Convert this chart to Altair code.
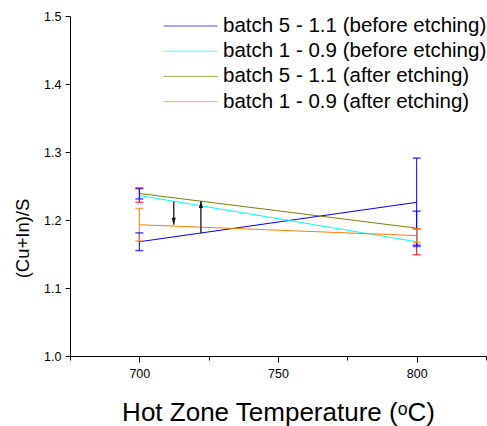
import altair as alt
import pandas as pd

# ---- data ----
series = [
    "batch 5 - 1.1 (before etching)",
    "batch 1 - 0.9 (before etching)",
    "batch 5 - 1.1 (after etching)",
    "batch 1 - 0.9 (after etching)",
]
line_colors = ["#0000FF", "#00FFFF", "#808000", "#FF8000"]
err_colors = ["#0000FF", "#FF0000", "#0000FF", "#FF8000"]

temps = [700, 800]
b5_before = [1.168, 1.226]
b1_before = [1.236, 1.168]
b5_after = [1.239, 1.188]
b1_after = [1.193, 1.177]

b5_before_err = [0.013, 0.065]
b1_before_err = [0.010, 0.019]
b5_after_err = [0.008, 0.025]
b1_after_err = [0.024, 0.010]

# annotation arrows (x in data units, from / to in y units)
arrow_x = [712.4, 722.2]
arrow_from = [1.227, 1.180]
arrow_to = [1.193, 1.228]

x_ticks = [675, 700, 725, 750, 775, 800, 825]
y_ticks = [1.0, 1.05, 1.1, 1.15, 1.2, 1.25, 1.3, 1.35, 1.4, 1.45, 1.5]

# ---- tables ----
vals = [b5_before, b1_before, b5_after, b1_after]
errs = [b5_before_err, b1_before_err, b5_after_err, b1_after_err]
rows = []
for i, s in enumerate(series):
    for j, t in enumerate(temps):
        rows.append({
            "series": s, "order": i, "temp": t, "val": vals[i][j],
            "lo": vals[i][j] - errs[i][j], "hi": vals[i][j] + errs[i][j],
            "ecolor": err_colors[i],
        })
df = pd.DataFrame(rows)
arr = pd.DataFrame({"x": arrow_x, "y0": arrow_from, "y1": arrow_to})
arr_down = arr[arr.y1 < arr.y0]
arr_up = arr[arr.y1 > arr.y0]

FONT = "Liberation Sans"

xscale = alt.Scale(domain=[675, 825], nice=False, zero=False)
yscale = alt.Scale(domain=[1.0, 1.5], nice=False, zero=False)

xaxis = alt.Axis(
    values=x_ticks,
    labelExpr="datum.value % 50 == 0 ? datum.label : ''",
    format="d",
    tickSize={"condition": {"test": "datum.value % 50 == 0", "value": 6}, "value": 4},
    title="Hot Zone Temperature (ᵒC)",
    titleFontSize=26, titleFontWeight="normal", titleFont=FONT, titleColor="black",
    titleBaseline="alphabetic", titleY=64,
    labelFontSize=12.5, labelFont=FONT, labelColor="black", labelPadding=5,
    grid=False, domainColor="black", tickColor="black", labelFlush=False,
)
yaxis = alt.Axis(
    values=y_ticks,
    labelExpr="abs(round(datum.value*20)) % 2 == 0 ? format(datum.value, '.1f') : ''",
    tickSize={"condition": {"test": "abs(round(datum.value*20)) % 2 == 0", "value": 5}, "value": 3},
    title="(Cu+In)/S",
    titleFontSize=18.5, titleFontWeight="normal", titleFont=FONT, titleColor="black",
    titleBaseline="middle", titleAlign="center", titleX=-48, titleY=222, titleAngle=270,
    labelFontSize=12.5, labelFont=FONT, labelColor="black", labelPadding=4,
    grid=False, domainColor="black", tickColor="black", labelFlush=False,
)

X = alt.X("temp:Q", scale=xscale, axis=xaxis)

lines = alt.Chart(df).mark_line(strokeWidth=1).encode(
    x=X,
    y=alt.Y("val:Q", scale=yscale, axis=yaxis),
    color=alt.Color(
        "series:N",
        scale=alt.Scale(domain=series, range=line_colors),
        sort=series,
        legend=alt.Legend(
            title=None, orient="none", legendX=93, legendY=-0.5,
            symbolType="stroke", symbolSize=2900, symbolStrokeWidth=1,
            labelFontSize=20.5, labelFont=FONT, labelColor="black",
            labelLimit=400, labelOffset=5, clipHeight=21, rowPadding=4.2,
            padding=0,
        ),
    ),
    order="order:O",
)

ebars = alt.Chart(df).mark_rule(strokeWidth=1).encode(
    x=alt.X("temp:Q", scale=xscale),
    y=alt.Y("lo:Q", scale=yscale),
    y2="hi:Q",
    color=alt.Color("ecolor:N", scale=None),
)
cap_lo = alt.Chart(df).mark_tick(orient="horizontal", size=8, thickness=1.5).encode(
    x=alt.X("temp:Q", scale=xscale),
    y=alt.Y("lo:Q", scale=yscale),
    color=alt.Color("ecolor:N", scale=None),
)
cap_hi = alt.Chart(df).mark_tick(orient="horizontal", size=8, thickness=1.5).encode(
    x=alt.X("temp:Q", scale=xscale),
    y=alt.Y("hi:Q", scale=yscale),
    color=alt.Color("ecolor:N", scale=None),
)

arrow_lines = alt.Chart(arr).mark_rule(strokeWidth=1.5, color="#333333").encode(
    x=alt.X("x:Q", scale=xscale),
    y=alt.Y("y0:Q", scale=yscale),
    y2="y1:Q",
)
head_down = alt.Chart(arr_down).mark_point(
    shape="M-0.6,-1L0.6,-1L0,1Z", filled=True, size=49, color="#111111", opacity=1, yOffset=-3.5
).encode(x=alt.X("x:Q", scale=xscale), y=alt.Y("y1:Q", scale=yscale))
head_up = alt.Chart(arr_up).mark_point(
    shape="M-0.6,1L0.6,1L0,-1Z", filled=True, size=49, color="#111111", opacity=1, yOffset=3.5
).encode(x=alt.X("x:Q", scale=xscale), y=alt.Y("y1:Q", scale=yscale))

chart = alt.layer(
    lines, ebars, cap_lo, cap_hi, arrow_lines, head_down, head_up
).properties(
    width=416, height=340,
    autosize=alt.AutoSizeParams(type="none"),
    padding={"left": 70, "top": 16, "right": 1, "bottom": 70},
    background="white",
).configure_view(stroke=None).configure_axis(domainWidth=1, tickWidth=1)

chart.save("out.html", embed_options={"renderer": "svg", "actions": False})
